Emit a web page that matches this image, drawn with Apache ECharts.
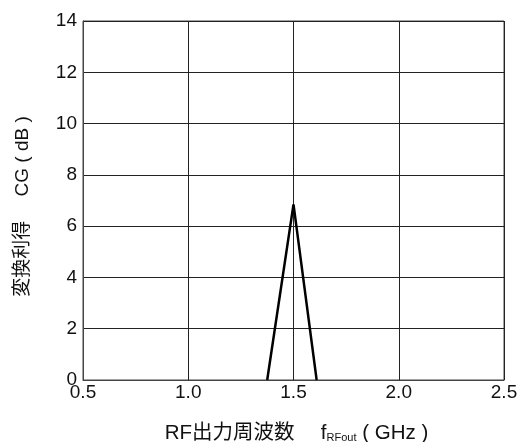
<!DOCTYPE html>
<html>
<head>
<meta charset="utf-8">
<script src="https://cdn.jsdelivr.net/npm/echarts@6/dist/echarts.min.js"></script>
<style>
  html, body { margin: 0; padding: 0; background: #fff; }
  #chart { width: 531px; height: 442px; }
</style>
</head>
<body>
<div id="chart"></div>
<script>
// Conversion gain vs. RF output frequency
const freqGHz = [1.375, 1.5, 1.61];
const gainDb = [0, 6.85, 0];
const xTicks = ['0.5', '1.0', '1.5', '2.0', '2.5'];
const yTicks = ['0', '2', '4', '6', '8', '10', '12', '14'];

const latin = '"Liberation Sans", Arial, sans-serif';
const cjk = '"Liberation Sans", "Noto Sans CJK JP", sans-serif';

const chart = echarts.init(document.getElementById('chart'));
chart.setOption({
  animation: false,
  backgroundColor: '#fff',
  grid: {
    left: 83, right: 27, top: 21, bottom: 62,
    outerBoundsMode: 'none',
    containLabel: false,
    show: true, borderColor: '#444', borderWidth: 1
  },
  xAxis: {
    type: 'value',
    min: 0.5, max: 2.5, interval: 0.5,
    axisLine: { show: true, onZero: false, lineStyle: { color: '#444', width: 1 } },
    axisTick: { show: false },
    splitLine: { show: true, lineStyle: { color: '#222', width: 1 } },
    axisLabel: {
      color: '#111', fontSize: 19, fontFamily: latin, margin: 3,
      formatter: v => xTicks[Math.round((v - 0.5) / 0.5)] ?? v.toFixed(1)
    },
    name: '{m|RF出力周波数　 f}{s|RFout}{m| ( GHz )}',
    nameLocation: 'middle',
    nameGap: 43,
    nameTextStyle: {
      padding: [0, 0, 0, 6],
      rich: {
        m: { fontSize: 20.5, color: '#111', fontFamily: cjk },
        s: { fontSize: 11, color: '#111', fontFamily: latin, verticalAlign: 'bottom', padding: [4, 0, 0, 0] }
      }
    }
  },
  yAxis: {
    type: 'value',
    min: 0, max: 14, interval: 2,
    axisLine: { show: true, lineStyle: { color: '#444', width: 1 } },
    axisTick: { show: false },
    splitLine: { show: true, lineStyle: { color: '#222', width: 1 } },
    axisLabel: {
      color: '#111', fontSize: 19, fontFamily: latin, margin: 6,
      formatter: v => yTicks[Math.round(v / 2)] ?? String(v)
    },
    name: '変換利得　 CG ( dB )',
    nameLocation: 'middle',
    nameGap: 51,
    nameTextStyle: { fontSize: 19, color: '#111', fontFamily: cjk, padding: [0, 12, 0, 0] }
  },
  series: [{
    type: 'line',
    data: freqGHz.map((f, i) => [f, gainDb[i]]),
    showSymbol: false,
    lineStyle: { color: '#000', width: 2.5 },
    clip: true
  }]
});
</script>
</body>
</html>
